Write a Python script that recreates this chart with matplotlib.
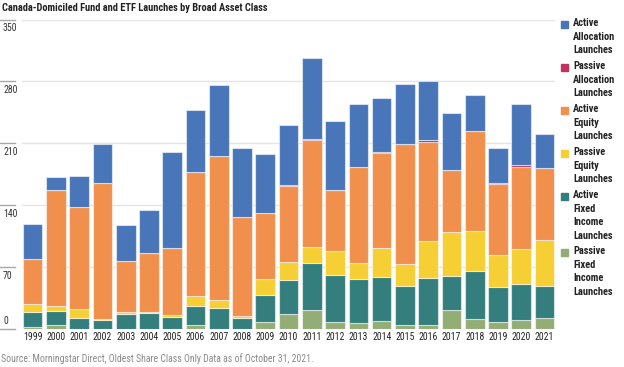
"""Canada-domiciled fund and ETF launches by broad asset class, stacked bars."""

import matplotlib
matplotlib.use("Agg")
import matplotlib.pyplot as plt
from matplotlib import font_manager, transforms
from matplotlib.patches import Rectangle
import numpy as np

years = [str(y) for y in range(1999, 2022)]

# counts, bottom segment first
passive_fixed_income = [2, 4, 0, 0, 0, 0, 0, 5, 0, 0, 8, 17, 21, 8, 7, 9, 4, 4, 22, 11, 8, 10, 13]
active_fixed_income = [17, 16, 13, 10, 17, 18, 14, 21, 24, 12, 30, 38, 54, 53, 50, 50, 45, 54, 38, 55, 39, 41, 36]
passive_equity = [9, 6, 10, 1, 2, 1, 2, 11, 9, 3, 19, 21, 18, 27, 18, 33, 25, 42, 50, 45, 37, 40, 52]
active_equity = [51, 131, 115, 154, 58, 67, 76, 141, 163, 112, 74, 86, 121, 69, 108, 107, 135, 112, 70, 113, 80, 92, 81]
passive_allocation = [0, 0, 0, 0, 0, 0, 0, 0, 0, 0, 0, 1, 1, 0, 0, 1, 0, 2, 0, 0, 1, 3, 0]
active_allocation = [40, 15, 35, 44, 41, 49, 108, 70, 80, 78, 67, 68, 92, 78, 72, 61, 68, 67, 64, 41, 40, 68, 38]

y_ticks = [0, 70, 140, 210, 280, 350]

series = [
    ("Passive\nFixed\nIncome\nLaunches", passive_fixed_income, "#93ad77"),
    ("Active\nFixed\nIncome\nLaunches", active_fixed_income, "#347f7d"),
    ("Passive\nEquity\nLaunches", passive_equity, "#f5cf33"),
    ("Active\nEquity\nLaunches", active_equity, "#f18f4c"),
    ("Passive\nAllocation\nLaunches", passive_allocation, "#c2305d"),
    ("Active\nAllocation\nLaunches", active_allocation, "#4975b9"),
]


def pick_font():
    """Prefer a narrow sans face, the reference uses a condensed font."""
    entries = font_manager.fontManager.ttflist
    names = {f.name for f in entries}
    for name in ["Liberation Sans Narrow", "Roboto Condensed", "Open Sans Condensed",
                 "Noto Sans Condensed", "Arial Narrow"]:
        if name in names:
            return name, "normal", 1.0
    for f in entries:
        if f.name == "DejaVu Sans" and "condensed" in str(f.stretch):
            return "DejaVu Sans", "condensed", 0.95
    return "Roboto", "normal", 0.88


FONT, STRETCH, SCALE = pick_font()
plt.rcParams["font.family"] = [FONT, "DejaVu Sans"]
plt.rcParams["font.stretch"] = STRETCH

W, H = 624, 367
fig = plt.figure(figsize=(W / 100, H / 100), dpi=100)
ax = fig.add_axes([21.7 / W, 38 / H, (555 - 21.7) / W, (329 - 19.5) / H])

x = np.arange(len(years))
bottom = np.zeros(len(years))
for name, vals, color in series:
    ax.bar(x, vals, 0.845, bottom=bottom, color=color,
           edgecolor=(1, 1, 1, 0.55), linewidth=0.8, zorder=3)
    bottom += np.array(vals)

ax.set_xlim(-0.47, 22.45)
ax.set_ylim(0, 350)
for s in ax.spines.values():
    s.set_visible(False)

ax.set_yticks(y_ticks)
ax.yaxis.grid(True, color="#e4e4e4", lw=1, zorder=0)
ax.tick_params(axis="y", length=0, labelleft=False)
ax.set_xticks(x, years)
ax.tick_params(axis="x", length=0, pad=2, labelsize=7 * SCALE, labelcolor="#222222")

# y labels sit at the far left, just under their tick line
trans = transforms.blended_transform_factory(fig.transFigure, ax.transData)
for v in y_ticks:
    ax.plot([0, 15 / W], [v, v], transform=trans, color="#a8a8a8", lw=1, clip_on=False)
    if v == 0:
        ax.annotate(str(v), xy=(3 / W, v), xycoords=trans, xytext=(0, 2),
                    textcoords="offset points", ha="left", va="bottom",
                    fontsize=7 * SCALE, color="#333333")
    else:
        ax.annotate(str(v), xy=(3 / W, v), xycoords=trans, xytext=(0, -2.5),
                    textcoords="offset points", ha="left", va="top",
                    fontsize=7 * SCALE, color="#333333")

fig.text(2 / W, 1 - 3 / H, "Canada-Domiciled Fund and ETF Launches by Broad Asset Class",
         ha="left", va="top", fontsize=7.5 * SCALE, fontweight="bold", color="#222222")
fig.text(1 / W, 1 - 353 / H,
         "Source: Morningstar Direct, Oldest Share Class Only Data as of October 31, 2021.",
         ha="left", va="top", fontsize=7.0 * SCALE, color="#8a8a8a")

# legend, top to bottom
item_tops = [18, 61, 104, 147, 190, 246]
for (name, vals, color), top in zip(series[::-1], item_tops):
    fig.patches.append(Rectangle((561 / W, 1 - (top + 10) / H), 7 / W, 7 / H,
                                 transform=fig.transFigure, color=color))
    fig.text(573 / W, 1 - top / H, name, ha="left", va="top", fontsize=7.5 * SCALE,
             fontweight="bold", color="#222222", linespacing=1.45)

fig.savefig("out.png", dpi=100)
